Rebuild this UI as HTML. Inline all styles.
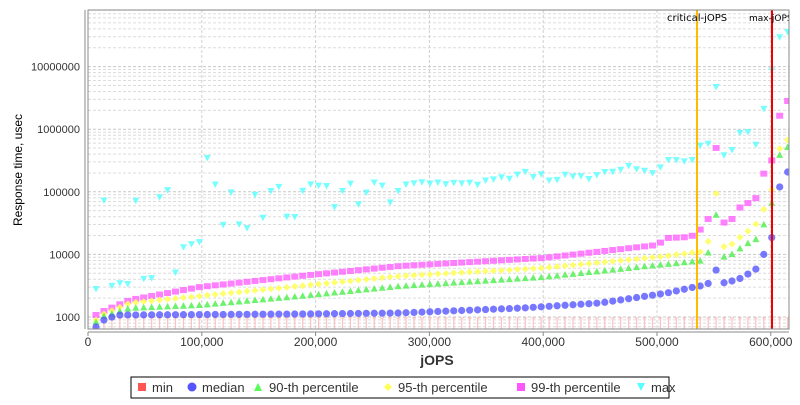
<!DOCTYPE html>
<html><head><meta charset="utf-8"><style>
body{margin:0;background:#fff;width:800px;height:400px;overflow:hidden;font-family:"Liberation Sans",sans-serif}
</style></head><body>
<svg id="s" width="800" height="400" xmlns="http://www.w3.org/2000/svg" font-family="Liberation Sans, sans-serif">
<rect x="0" y="0" width="800" height="400" fill="#fff"/>
<g id="grid"></g>
<defs><clipPath id="pc"><rect x="88" y="10" width="701" height="319"/></clipPath></defs>
<g id="pts" clip-path="url(#pc)"></g>
<line x1="697" y1="10" x2="697" y2="329" stroke="#ffbb00" stroke-width="2"/>
<line x1="772" y1="10" x2="772" y2="329" stroke="#ee0000" stroke-width="2"/>
<g clip-path="url(#pc)"><text x="667" y="21" font-size="10" fill="#000" font-family="DejaVu Sans, sans-serif" font-size="9">critical-jOPS</text>
<text x="749" y="21" font-size="9" fill="#000" font-family="DejaVu Sans, sans-serif">max-jOPS</text></g>
<rect x="88" y="10" width="701" height="319" fill="none" stroke="#888" stroke-width="1"/>
<line x1="85" y1="10" x2="85" y2="329" stroke="#888"/>
<line x1="88" y1="332" x2="789" y2="332" stroke="#888"/>
<g id="labels" font-size="11" fill="#333"></g>
<text x="437" y="365" font-size="14" font-weight="bold" text-anchor="middle" fill="#333">jOPS</text>
<text transform="translate(22,170) rotate(-90)" font-size="12" text-anchor="middle" fill="#000">Response time, usec</text>
<rect x="131" y="377" width="538" height="21" fill="#fff" stroke="#000"/>
<g font-size="13" fill="#333">
<rect x="138" y="383" width="8" height="8" fill="#ff5555"/><text x="152" y="392">min</text>
<circle cx="192" cy="387" r="4.5" fill="#5555ff"/><text x="202" y="392">median</text>
<path d="M254,391 L262,391 L258,383Z" fill="#55ff55"/><text x="269" y="392">90-th percentile</text>
<path d="M388,383 L392,387 L388,391 L384,387Z" fill="#ffff55"/><text x="398" y="392">95-th percentile</text>
<rect x="517" y="383" width="8" height="8" fill="#ff55ff"/><text x="531" y="392">99-th percentile</text>
<path d="M637,383 L645,383 L641,391Z" fill="#55ffff"/><text x="651" y="392">max</text>
</g>
</svg>
<script>
var NS="http://www.w3.org/2000/svg";
function el(p,t,a){var e=document.createElementNS(NS,t);for(var k in a)e.setAttribute(k,a[k]);p.appendChild(e);return e;}
var g=document.getElementById('grid'),L=document.getElementById('labels'),P=document.getElementById('pts');
function Y(v){return 317-(Math.log10(v)-3)*62.6;}
for(var d=2;d<=8;d++){for(var m=1;m<10;m++){var y=Y(m*Math.pow(10,d));if(y<10||y>329)continue;
el(g,'line',{x1:88,x2:789,y1:y,y2:y,stroke:m==1?'#c8c8c8':'#dcdcdc','stroke-dasharray':'3,2','stroke-width':1});}}
for(var d=3;d<=7;d++){var y=Y(Math.pow(10,d));var t=el(L,'text',{x:80,y:y+4,'text-anchor':'end'});t.textContent=String(Math.pow(10,d));}
for(var k=0;k<=6;k++){var x=88+k*113.8;el(g,'line',{x1:x,x2:x,y1:10,y2:329,stroke:'#d0d0d0','stroke-dasharray':'3,2'});
el(L,'line',{x1:x,x2:x,y1:332,y2:336,stroke:'#888'});
var t=el(L,'text',{x:x,y:346,'text-anchor':'middle','font-size':12});t.textContent=k==0?'0':(k*100)+',000';}
function interp(kp,x){if(x<=kp[0][0])return kp[0][1];for(var i=1;i<kp.length;i++){if(x<=kp[i][0]){var a=kp[i-1],b=kp[i];return a[1]+(b[1]-a[1])*(x-a[0])/(b[0]-a[0]);}}return kp[kp.length-1][1];}
var med=[[96,327],[104,320],[112,317],[120,315],[300,314],[400,313],[523,308],[600,303],[667,293],[699,286],[707,286],[715,268],[723,283],[732,281],[739,279],[748,274],[756,269],[764,254],[772,237],[780,185],[787,172]];
var p90=[[96,322],[104,316],[130,308],[200,305],[300,296],[400,286],[543,277],[657,265],[707,260],[715,208],[723,257],[732,254],[739,249],[748,243],[756,239],[764,224],[772,202],[780,153],[787,147]];
var p95=[[96,320],[104,314],[130,303],[200,296],[300,286],[400,276],[543,268],[657,257],[707,251],[715,185],[723,247],[732,244],[739,238],[748,231],[756,224],[764,209],[772,189],[780,147],[787,140]];
var p99=[[96,315],[104,311],[130,300],[200,287],[300,276],[400,266],[543,258],[657,245],[667,238],[691,237],[699,229],[707,233],[715,136],[723,223],[732,219],[739,208],[748,203],[756,198],[764,173],[772,160],[780,114],[787,101]];
var mx=[[96,289],[104,200],[112,287],[120,283],[128,284],[136,198],[144,282],[152,278],[160,193],[168,190],[176,278],[184,245],[192,244],[200,242],[208,150],[216,188],[224,229],[232,188],[240,229],[248,228],[256,190],[264,222],[272,186],[280,187],[288,222],[296,216],[304,186],[312,184],[320,186],[328,186],[336,212],[344,186],[352,183],[360,210],[368,188],[376,181],[384,187],[392,207],[400,186],[408,184],[416,183],[424,182],[432,184],[440,182],[448,185],[456,182],[464,184],[472,182],[480,186],[488,178],[496,180],[504,176],[512,180],[523,169],[531,179],[539,172],[547,180],[555,182],[563,174],[571,177],[579,175],[587,180],[595,176],[603,172],[611,172],[619,171],[627,165],[635,169],[643,170],[651,174],[659,169],[667,160],[675,160],[683,161],[691,163],[699,144],[707,155],[715,76],[723,156],[732,150],[739,133],[748,132],[756,145],[764,108],[772,69],[780,36],[787,32]];
for(var i=0;i<88;i++){var x=96+i*7.95;
el(P,'line',{x1:x,x2:x,y1:318,y2:329,stroke:'#ffc0c0','stroke-width':1.2});
el(P,'line',{x1:x-2,x2:x+2,y1:318,y2:318,stroke:'#ffc0c0','stroke-width':1});
var y=interp(mx,x);el(P,'path',{d:'M'+(x-3.5)+','+(y-3)+'L'+(x+3.5)+','+(y-3)+'L'+x+','+(y+3.5)+'Z',fill:'#55ffff','fill-opacity':0.8});
y=interp(p99,x);el(P,'rect',{x:x-3.5,y:y-3,width:7,height:6,fill:'#ff55ff','fill-opacity':0.75});
y=interp(p95,x);el(P,'path',{d:'M'+x+','+(y-3.5)+'L'+(x+3.5)+','+y+'L'+x+','+(y+3.5)+'L'+(x-3.5)+','+y+'Z',fill:'#ffff55','fill-opacity':0.85});
y=interp(p90,x);el(P,'path',{d:'M'+(x-3.5)+','+(y+3)+'L'+(x+3.5)+','+(y+3)+'L'+x+','+(y-3.5)+'Z',fill:'#55ee55','fill-opacity':0.85});
y=interp(med,x);el(P,'circle',{cx:x,cy:y,r:3.6,fill:'#5555ff','fill-opacity':0.8});
}
</script>
</body></html>
